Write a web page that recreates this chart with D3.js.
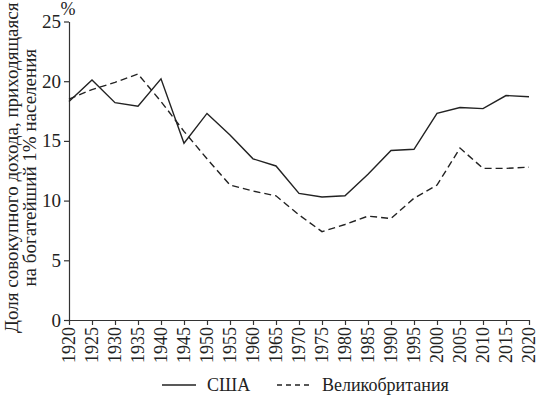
<!DOCTYPE html>
<html>
<head>
<meta charset="utf-8">
<script src="https://cdn.jsdelivr.net/npm/d3@7"></script>
<style>
  body { margin: 0; background: #fff; }
</style>
</head>
<body>
<div id="chart"></div>
<script>
// Years on the x axis
const years = d3.range(1920, 2021, 5);
// Share of total income going to the richest 1%, %
const usa = [18.3, 20.1, 18.2, 17.9, 20.2, 14.8, 17.3, 15.5, 13.5, 12.9, 10.6, 10.3, 10.4, 12.2, 14.2, 14.3, 17.3, 17.8, 17.7, 18.8, 18.7];
const uk = [18.5, 19.3, 19.9, 20.6, 18.3, 15.8, 13.5, 11.3, 10.8, 10.4, 8.8, 7.4, 8.0, 8.7, 8.5, 10.2, 11.3, 14.4, 12.7, 12.7, 12.8];
const yTicks = [0, 5, 10, 15, 20, 25];
const seriesNames = ["США", "Великобритания"];

const W = 536, H = 395;
const margin = { top: 21.5, right: 7, bottom: 75, left: 69 };
const serif = "'Liberation Serif', 'Times New Roman', Times, serif";

const svg = d3.select("#chart").append("svg")
  .attr("width", W)
  .attr("height", H)
  .style("font-family", serif);

const x = d3.scaleLinear().domain([1920, 2020]).range([margin.left, W - margin.right]);
const y = d3.scaleLinear().domain([0, 25]).range([H - margin.bottom, margin.top]);

// x axis with rotated year labels
const xAxis = svg.append("g")
  .attr("transform", `translate(0,${H - margin.bottom})`)
  .call(d3.axisBottom(x).tickValues(years).tickFormat(d3.format("d")).tickSize(5).tickSizeOuter(0));
xAxis.selectAll("text")
  .attr("transform", "rotate(-90)")
  .attr("text-anchor", "end")
  .attr("x", -7)
  .attr("y", 0)
  .attr("dy", "0.33em")
  .style("font-family", serif)
  .style("font-size", "18px")
  .attr("fill", "#222");

const yAxis = svg.append("g")
  .attr("transform", `translate(${margin.left},0)`)
  .call(d3.axisLeft(y).tickValues(yTicks).tickSize(5).tickSizeOuter(0));
yAxis.selectAll("text")
  .attr("x", -8)
  .style("font-family", serif)
  .style("font-size", "19px")
  .attr("fill", "#222");

svg.selectAll(".domain, .tick line").attr("stroke", "#333").attr("stroke-width", 1.2);

svg.append("text")
  .attr("x", margin.left - 1)
  .attr("y", 15)
  .attr("text-anchor", "middle")
  .style("font-family", serif)
  .style("font-size", "18px")
  .attr("fill", "#222")
  .text("%");

// y axis title, two lines
const yTitle = svg.append("text")
  .attr("transform", `translate(18,${(margin.top + H - margin.bottom) / 2 - 3}) rotate(-90)`)
  .attr("text-anchor", "middle")
  .style("font-family", serif)
  .style("font-size", "19px")
  .attr("fill", "#222");
yTitle.append("tspan").attr("x", 0).attr("dy", 0).text("Доля совокупного дохода, приходящаяся");
yTitle.append("tspan").attr("x", 0).attr("dy", "0.95em").text("на богатейший 1% населения");

const line = d3.line()
  .x((d, i) => x(years[i]))
  .y((d) => y(d));

svg.append("path")
  .datum(usa)
  .attr("d", line)
  .attr("fill", "none")
  .attr("stroke", "#222")
  .attr("stroke-width", 1.4);

svg.append("path")
  .datum(uk)
  .attr("d", line)
  .attr("fill", "none")
  .attr("stroke", "#222")
  .attr("stroke-width", 1.4)
  .attr("stroke-dasharray", "7,4");

// legend
const legend = svg.append("g").attr("transform", "translate(0,385)");
legend.append("line")
  .attr("x1", 162).attr("x2", 196)
  .attr("stroke", "#222").attr("stroke-width", 1.4);
legend.append("line")
  .attr("x1", 277).attr("x2", 313)
  .attr("stroke", "#222").attr("stroke-width", 1.4)
  .attr("stroke-dasharray", "5,4");
legend.selectAll("text")
  .data(seriesNames)
  .join("text")
  .attr("x", (d, i) => [207, 322][i])
  .attr("dy", "0.35em")
  .style("font-family", serif)
  .style("font-size", "18px")
  .attr("fill", "#222")
  .text((d) => d);
</script>
</body>
</html>
